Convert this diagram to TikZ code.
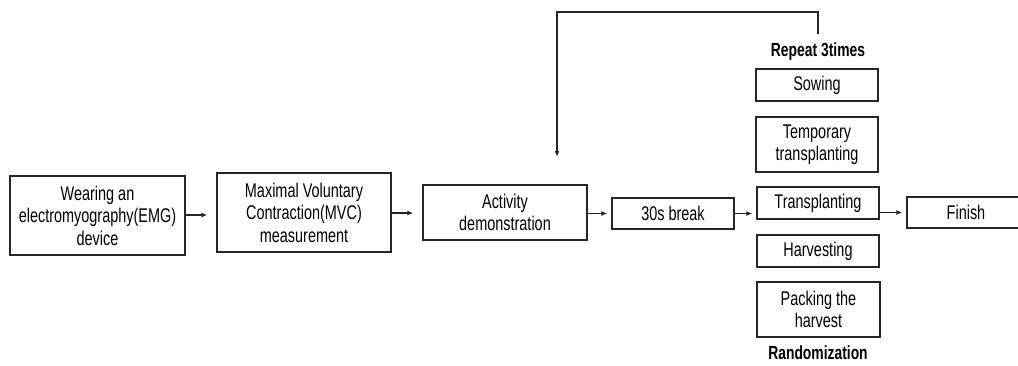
\documentclass[tikz,border=0pt]{standalone}
\usepackage{fontspec}
\setmainfont[FakeStretch=0.73]{Liberation Sans}
\usetikzlibrary{arrows.meta}
\begin{document}
\begin{tikzpicture}[x=1pt,y=-1pt,
  box/.style={draw=black!85, line width=1.3pt, inner sep=0pt, align=center,
    font=\fontsize{19.8}{22.5}\selectfont, text=black},
  lbl/.style={inner sep=0pt, font=\fontsize{19}{22}\selectfont\bfseries, text=black},
  conn/.style={draw=black!85, line width=1.3pt, -{Latex[length=6pt,width=5pt]}}]
\useasboundingbox (0,0) rectangle (1018,365);
\clip (0,0) rectangle (1018,365);
\node[box, minimum width=175pt, minimum height=79pt] (b1) at (97.5,215.5) {Wearing an\\electromyography(EMG)\\device};
\node[box, minimum width=174pt, minimum height=79pt] (b2) at (304,212.5) {Maximal Voluntary\\Contraction(MVC)\\measurement};
\node[box, minimum width=164pt, minimum height=55pt] (b3) at (505,212.5) {Activity\\demonstration};
\node[box, minimum width=122pt, minimum height=31pt] (b4) at (673,213.5) {30s break};
\node[box, minimum width=122pt, minimum height=32pt] (sow) at (817,85) {Sowing};
\node[box, minimum width=122pt, minimum height=55pt] (temp) at (817,144.5) {Temporary\\transplanting};
\node[box, minimum width=122pt, minimum height=32pt] (trans) at (818,203) {Transplanting};
\node[box, minimum width=122pt, minimum height=32pt] (harv) at (818,251) {Harvesting};
\node[box, minimum width=123pt, minimum height=55pt] (pack) at (818.5,309.5) {Packing the\\harvest};
\node[box, minimum width=118pt, minimum height=31pt] (fin) at (966,212.5) {Finish};
\node[lbl] (rep) at (818,52) {Repeat 3times};
\node[lbl] (rand) at (818,353) {Randomization};
\coordinate (fbs) at (818,34);
\coordinate (fbe) at (557,157);
\draw[conn, shorten >=9pt] (b1.east |- 0,215) -- (b2.west |- 0,215);
\draw[conn, shorten >=9pt] (b2.east |- 0,213) -- (b3.west |- 0,213);
\draw[conn, shorten >=4pt] (b3.east |- b4) -- (b4.west);
\draw[conn, shorten >=4pt] (b4.east) -- (b4.east -| trans.west);
\draw[conn, shorten >=4pt] (trans.east |- fin) -- (fin.west);
\draw[conn] (fbs) -- (818,12) -| (fbe);
\end{tikzpicture}
\end{document}
